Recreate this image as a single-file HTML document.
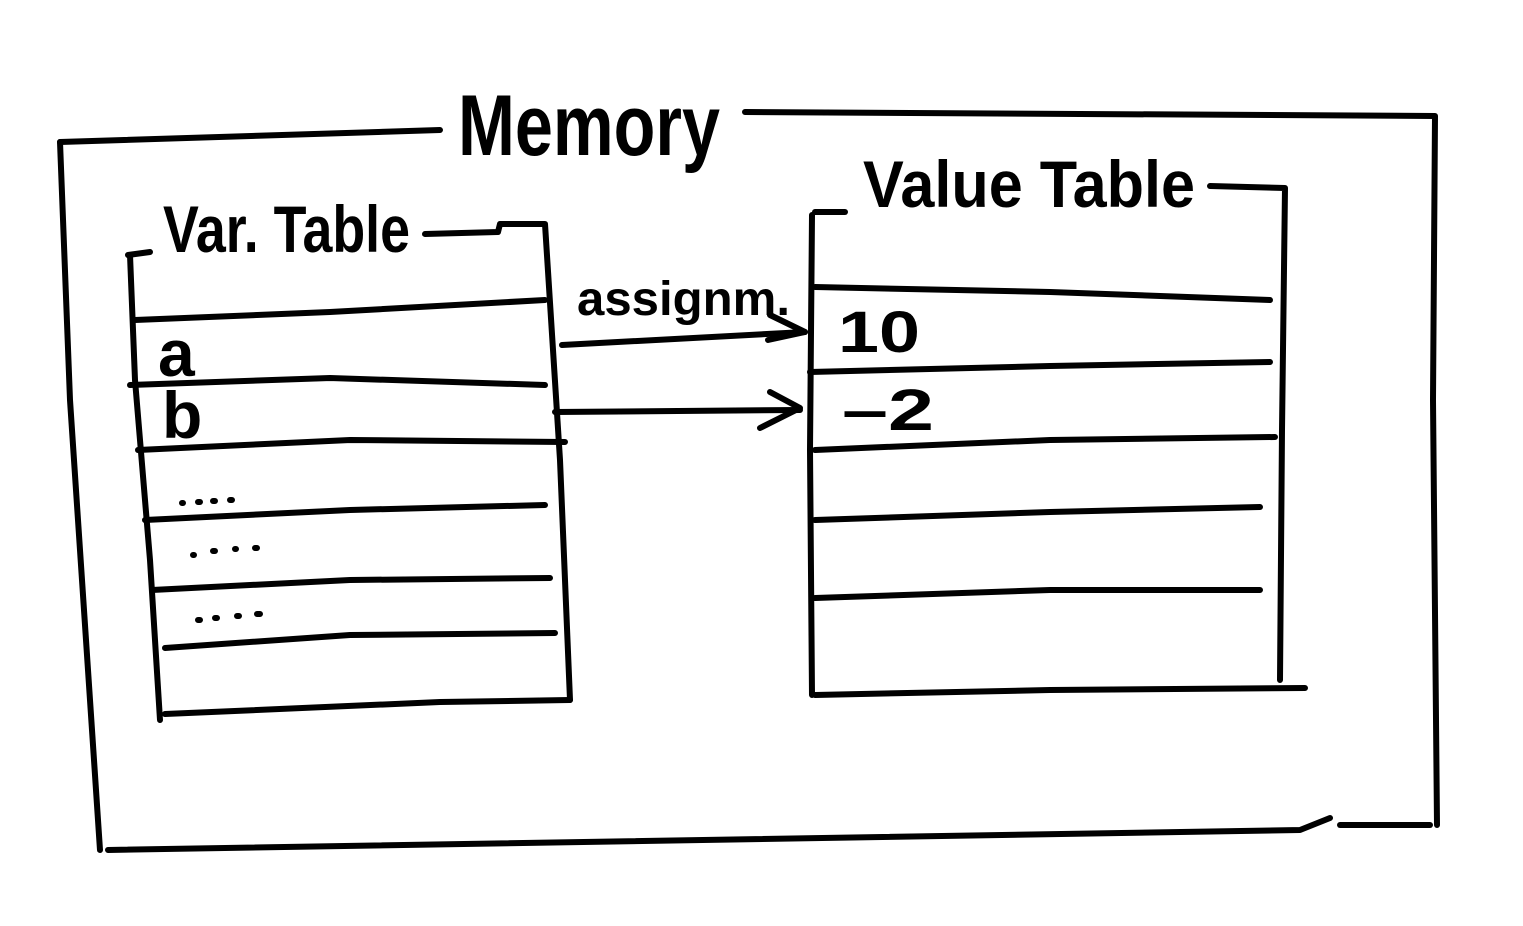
<!DOCTYPE html>
<html><head><meta charset="utf-8"><style>
html,body{margin:0;padding:0;background:#fff;}
svg{display:block;}
text{font-family:"Liberation Sans",sans-serif;fill:#000;font-weight:bold;}
</style></head><body>
<svg width="1523" height="926" viewBox="0 0 1523 926" xmlns="http://www.w3.org/2000/svg">
<g fill="none" stroke="#000" stroke-width="6" stroke-linecap="round" stroke-linejoin="round">
<path d="M60,142 L440,130"/>
<path d="M745,112 L1435,116 L1433,400 L1437,825"/>
<path d="M60,142 L70,400 L100,850"/>
<path d="M108,850 L1300,830 L1330,818"/>
<path d="M1340,825 L1430,825"/>
<path d="M128,255 L150,252"/>
<path d="M425,234 L498,232 L500,224 L545,224 L560,460 L570,700"/>
<path d="M130,255 L135,380 L150,560 L160,720"/>
<path d="M165,714 L440,702 L570,700"/>
<path d="M135,320 L330,312 L545,300"/>
<path d="M130,385 L330,378 L545,385"/>
<path d="M138,450 L350,440 L565,442"/>
<path d="M145,520 L350,510 L545,505"/>
<path d="M152,590 L350,580 L550,578"/>
<path d="M165,648 L350,635 L555,633"/>
<path d="M815,212 L845,212"/>
<path d="M812,215 L810,450 L812,695"/>
<path d="M1210,186 L1285,188 L1282,430 L1280,680"/>
<path d="M815,695 L1050,690 L1305,688"/>
<path d="M815,287 L1050,292 L1270,300"/>
<path d="M810,372 L1050,366 L1270,362"/>
<path d="M815,450 L1050,440 L1275,437"/>
<path d="M815,520 L1050,512 L1260,507"/>
<path d="M815,598 L1050,590 L1260,590"/>
<path d="M562,345 L805,332"/>
<path d="M770,315 L805,332 L768,340"/>
<path d="M555,412 L800,410"/>
<path d="M770,392 L800,408 L760,428"/>
<path d="M182,503 L183,503 M198,502 L200,502 M213,501 L215,501 M230,500 L232,500"/>
<path d="M193,555 L194,555 M213,551 L215,551 M235,549 L236,549 M255,548 L257,548"/>
<path d="M198,620 L200,620 M215,618 L217,618 M237,616 L239,616 M257,614 L260,614"/>
</g>
<text x="458" y="155" font-size="86" textLength="262" lengthAdjust="spacingAndGlyphs">Memory</text>
<text x="163" y="252" font-size="66" textLength="247" lengthAdjust="spacingAndGlyphs">Var. Table</text>
<text x="863" y="207" font-size="66" textLength="332" lengthAdjust="spacingAndGlyphs">Value Table</text>
<text x="577" y="315" font-size="48" textLength="213" lengthAdjust="spacingAndGlyphs">assignm.</text>
<text x="158" y="376" font-size="66">a</text>
<text x="162" y="438" font-size="66">b</text>
<text x="838" y="352" font-size="58" textLength="82" lengthAdjust="spacingAndGlyphs">10</text>
<text x="842" y="430" font-size="58" textLength="92" lengthAdjust="spacingAndGlyphs">–2</text>
</svg>
</body></html>
